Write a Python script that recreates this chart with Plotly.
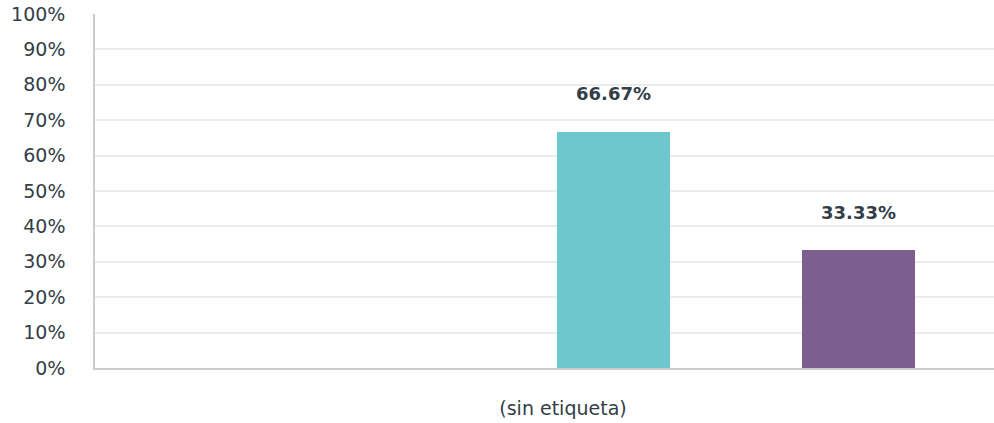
import plotly.graph_objects as go

categories = ["(sin etiqueta)"]
series_names = ["Opción 1", "Opción 2"]
series_values = [[66.67], [33.33]]
series_colors = ["#6CC8CC", "#7D5E90"]
y_ticks = list(range(0, 101, 10))
y_tick_labels = [f"{v}%" for v in y_ticks]

FONT = "'DejaVu Sans', sans-serif"
TXT = "#333E48"

W, H = 994, 423
ML, MR, MT, MB = 95, 0, 14, 55
plot_w = W - ML - MR
label_px = 563 - ML            # pixel position of category within plot area
unit = plot_w                   # pixels per category unit
x_range = [-label_px / unit, (plot_w - label_px) / unit]
bar_w_px = 113
bar_left_px = [557, 802]

fig = go.Figure()
for i, (name, vals) in enumerate(zip(series_names, series_values)):
    fig.add_trace(go.Bar(
        x=categories, y=vals, name=name,
        marker=dict(color=series_colors[i], line=dict(width=0)),
        width=bar_w_px / unit,
        offset=(bar_left_px[i] - 563) / unit,
        hoverinfo="skip",
    ))
    for c, v in zip(categories, vals):
        fig.add_annotation(
            x=c, y=v, xref="x", yref="y",
            text=f"<b>{v:.2f}%</b>", showarrow=False,
            xshift=(bar_left_px[i] + bar_w_px / 2 - 563),
            yshift=38, yanchor="middle",
            font=dict(family=FONT, size=18, color=TXT),
        )

fig.update_layout(
    width=W, height=H,
    margin=dict(l=ML, r=MR, t=MT, b=MB),
    paper_bgcolor="white", plot_bgcolor="white",
    showlegend=False,
    barmode="group",
    font=dict(family=FONT, size=19, color=TXT),
)
fig.update_xaxes(
    type="category", range=x_range,
    showgrid=False, showline=True, linecolor="#CCCCCC", linewidth=2,
    ticks="", ticklabelstandoff=22,
    tickfont=dict(family=FONT, size=19, color=TXT),
    fixedrange=True,
)
fig.update_yaxes(
    range=[0, 100], tickvals=y_ticks, ticktext=y_tick_labels,
    showgrid=True, gridcolor="#ECECEC", gridwidth=1.5,
    showline=True, linecolor="#CCCCCC", linewidth=1.5,
    zeroline=False, ticks="", ticklabelstandoff=24,
    tickfont=dict(family=FONT, size=19, color=TXT),
    fixedrange=True,
)

fig.write_html(
    "out.html",
    config={"displayModeBar": False, "responsive": False},
    post_script="document.body.style.margin='0px';",
)
